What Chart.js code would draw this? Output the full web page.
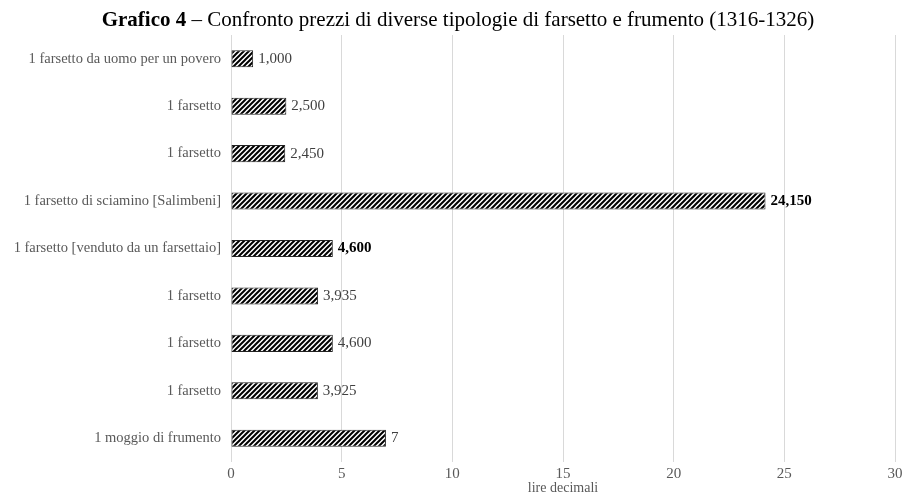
<!DOCTYPE html>
<html>
<head>
<meta charset="utf-8">
<script src="https://cdn.jsdelivr.net/npm/chart.js@4"></script>
<style>
  html, body { margin: 0; padding: 0; background: #fff; }
  #wrap { position: relative; width: 903px; height: 495px; }
  #title {
    position: absolute; top: 7px; left: 0; width: 916px; text-align: center;
    font-family: "Liberation Serif", serif; font-size: 21px; color: #000;
  }
</style>
</head>
<body>
<div id="wrap">
  <div id="title"><b>Grafico 4</b> – Confronto prezzi di diverse tipologie di farsetto e frumento (1316-1326)</div>
  <canvas id="chart" width="903" height="495"></canvas>
</div>
<script>
// Data
const categories = [
    '1 farsetto da uomo per un povero',
    '1 farsetto',
    '1 farsetto',
    '1 farsetto di sciamino [Salimbeni]',
    '1 farsetto [venduto da un farsettaio]',
    '1 farsetto',
    '1 farsetto',
    '1 farsetto',
    '1 moggio di frumento'
];
const prices = [1.000, 2.500, 2.450, 24.150, 4.600, 3.935, 4.600, 3.925, 7];
const valueLabels = ['1,000', '2,500', '2,450', '24,150', '4,600', '3,935', '4,600', '3,925', '7'];
const boldLabels = [false, false, false, true, true, false, false, false, false];
const xTicks = [0, 5, 10, 15, 20, 25, 30];

const FONT = '"Liberation Serif", serif';

// Hatch pattern for the bars
function makeHatch() {
    const n = 5;
    const c = document.createElement('canvas');
    c.width = n; c.height = n;
    const g = c.getContext('2d');
    g.fillStyle = '#fff';
    g.fillRect(0, 0, n, n);
    g.strokeStyle = '#000';
    g.lineWidth = 2;
    g.beginPath();
    g.moveTo(0, n); g.lineTo(n, 0);
    g.moveTo(-1, 1); g.lineTo(1, -1);
    g.moveTo(n - 1, n + 1); g.lineTo(n + 1, n - 1);
    g.stroke();
    return document.getElementById('chart').getContext('2d').createPattern(c, 'repeat');
}

// Value labels at the end of each bar
const barLabels = {
    id: 'barLabels',
    afterDatasetsDraw(chart) {
        const c = chart.ctx;
        const meta = chart.getDatasetMeta(0);
        c.save();
        c.textBaseline = 'middle';
        c.textAlign = 'left';
        meta.data.forEach((bar, i) => {
            c.font = (boldLabels[i] ? 'bold ' : '') + '15px ' + FONT;
            c.fillStyle = boldLabels[i] ? '#000' : '#404040';
            c.fillText(valueLabels[i], bar.x + 5, bar.y);
        });
        c.restore();
    }
};

new Chart(document.getElementById('chart'), {
    type: 'bar',
    data: {
        labels: categories,
        datasets: [{
            data: prices,
            backgroundColor: makeHatch(),
            borderColor: '#222',
            borderWidth: 1,
            borderSkipped: false,
            barPercentage: 0.6,
            categoryPercentage: 0.6
        }]
    },
    options: {
        indexAxis: 'y',
        responsive: false,
        animation: false,
        layout: { padding: { top: 35, right: 8, left: 0, bottom: 0 } },
        plugins: {
            legend: { display: false },
            tooltip: { enabled: false }
        },
        scales: {
            x: {
                min: 0, max: 30,
                afterBuildTicks: s => { s.ticks = xTicks.map(v => ({ value: v })); },
                afterFit: s => { s.height = 33; s.paddingRight = 0; },
                grid: { color: '#d9d9d9', drawTicks: false },
                border: { display: false },
                ticks: { color: '#595959', font: { family: FONT, size: 15, lineHeight: 1 }, padding: 5 },
                title: {
                    display: true, text: 'lire decimali', color: '#595959',
                    font: { family: FONT, size: 14, lineHeight: 1 }, padding: { top: 0, bottom: 0 }
                }
            },
            y: {
                afterFit: s => { s.width = 231; },
                grid: { display: false },
                border: { display: false },
                ticks: { color: '#595959', font: { family: FONT, size: 14.5 }, padding: 2 }
            }
        }
    },
    plugins: [barLabels]
});
</script>
</body>
</html>
